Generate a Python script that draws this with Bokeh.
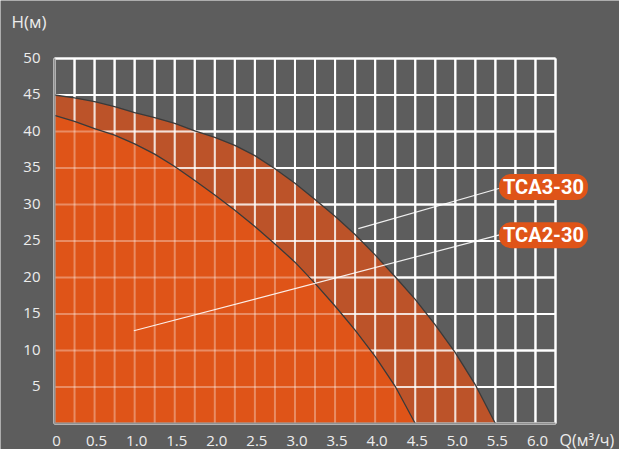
from bokeh.plotting import figure
from bokeh.models import Range1d, Label
from bokeh.core.properties import value
from bokeh.embed import file_html
from bokeh.resources import INLINE

# ---- data ----
q_outer = [0, 0.25, 0.5, 0.75, 1.0, 1.25, 1.5, 1.75, 2.0, 2.25, 2.5, 2.75, 3.0,
           3.25, 3.5, 3.75, 4.0, 4.25, 4.5, 4.75, 5.0, 5.25, 5.5]
h_outer = [45.0, 44.6, 44.1, 43.4, 42.6, 41.9, 41.1, 40.1, 39.2, 38.1, 36.7, 34.9, 32.9,
           30.7, 28.4, 25.9, 23.1, 20.1, 17.0, 13.5, 9.7, 5.3, 0.0]
q_inner = [0, 0.25, 0.5, 0.75, 1.0, 1.25, 1.5, 1.75, 2.0, 2.25, 2.5, 2.75, 3.0,
           3.25, 3.5, 3.75, 4.0, 4.25, 4.5]
h_inner = [42.2, 41.4, 40.4, 39.5, 38.3, 36.9, 35.2, 33.3, 31.3, 29.2, 27.0, 24.6, 22.1,
           19.2, 16.1, 12.8, 9.2, 5.1, 0.0]

x_tick_vals = [0, 0.5, 1.0, 1.5, 2.0, 2.5, 3.0, 3.5, 4.0, 4.5, 5.0, 5.5, 6.0]
x_tick_text = ["0", "0.5", "1.0", "1.5", "2.0", "2.5", "3.0", "3.5", "4.0", "4.5", "5.0", "5.5", "6.0"]
y_tick_vals = [5, 10, 15, 20, 25, 30, 35, 40, 45, 50]
y_tick_text = ["5", "10", "15", "20", "25", "30", "35", "40", "45", "50"]
x_grid_vals = [i * 0.25 for i in range(26)]
y_grid_vals = [0, 5, 10, 15, 20, 25, 30, 35, 40, 45, 50]

series_names = ["TCA3-30", "TCA2-30"]
label_x = [6.1, 6.1]
label_y = [32.4, 25.8]
leader_x0 = [3.79, 0.99]
leader_y0 = [26.7, 12.7]
leader_x1 = [5.575, 5.575]
leader_y1 = [32.3, 25.9]

x_title = "Q(м³/ч)"
y_title = "H(м)"

# ---- style / layout ----
BG = "#5d5d5d"
ORANGE = "#df5418"
BROWN = "#bc5329"
CURVE = "#3a3a3a"
TXT = "#ececec"
AXIS = "#909090"
FONT = "Open Sans"

W, H = 619, 449
F_LEFT, F_RIGHT, F_TOP, F_BOTTOM = 54, 555, 58, 423   # chart area in px

x0, x1 = x_grid_vals[0], x_grid_vals[-1]
y0, y1 = y_grid_vals[0], y_grid_vals[-1]
sx = (F_RIGHT - F_LEFT) / (x1 - x0)
sy = (F_BOTTOM - F_TOP) / (y1 - y0)
XMIN = x0 - F_LEFT / sx
XMAX = x1 + (W - F_RIGHT) / sx
YMAX = y1 + F_TOP / sy
YMIN = y0 - (H - F_BOTTOM) / sy

p = figure(width=W, height=H, x_range=Range1d(XMIN, XMAX), y_range=Range1d(YMIN, YMAX),
           output_backend="svg", toolbar_location=None,
           x_axis_location=None, y_axis_location=None,
           min_border=0, min_border_left=0, min_border_right=0, min_border_top=0, min_border_bottom=0,
           background_fill_color=BG, border_fill_color=BG, outline_line_color=None)
p.grid.visible = False

nx, ny = len(x_grid_vals), len(y_grid_vals)

def grid(alpha):
    p.segment(x0=x_grid_vals, y0=[y0] * nx, x1=x_grid_vals, y1=[y1] * nx,
              line_color="white", line_width=2, line_alpha=alpha)
    p.segment(x0=[x0] * ny, y0=y_grid_vals, x1=[x1] * ny, y1=y_grid_vals,
              line_color="white", line_width=2, line_alpha=alpha)

grid(1.0)
p.varea(x=q_outer, y1=0, y2=h_outer, fill_color=BROWN, fill_alpha=1.0)
grid(0.72)
p.varea(x=q_inner, y1=0, y2=h_inner, fill_color=ORANGE, fill_alpha=1.0)
grid(0.33)

# curves
p.line(q_outer, h_outer, line_color=CURVE, line_width=1.3)
p.line(q_inner, h_inner, line_color=CURVE, line_width=1.3)

# axis lines
p.segment(x0=[x0, x0], y0=[y0, y0], x1=[x0, x1], y1=[y1, y0], line_color=AXIS, line_width=2)

# leader lines
p.segment(x0=leader_x0, y0=leader_y0, x1=leader_x1, y1=leader_y1,
          line_color="white", line_width=1.2, line_alpha=0.9)

# pill labels
for name, lx, ly in zip(series_names, label_x, label_y):
    p.add_layout(Label(x=lx, y=ly, text=name, text_align="center", text_baseline="middle",
                       text_color="white", text_font_style="bold", text_font_size="20px",
                       text_font="Roboto",
                       background_fill_color=ORANGE, border_radius=12, padding=(4, 1)))

# tick labels
p.text(x=x_tick_vals, y=[y0 - 17 / sy] * len(x_tick_vals), text=x_tick_text,
       text_align="center", text_baseline="middle", text_color=TXT, x_offset=2,
       text_font=value(FONT), text_font_size="15px")
p.text(x=[x0 - 14 / sx] * len(y_tick_vals), y=y_tick_vals, text=y_tick_text,
       text_align="right", text_baseline="middle", text_color=TXT,
       text_font=value(FONT), text_font_size="15px", y_offset=-1)

# axis titles
p.text(x=[x0 - 43 / sx], y=[y1 + 37 / sy], text=[y_title], text_align="left",
       text_baseline="middle", text_color=TXT, text_font=value(FONT), text_font_size="17px")
p.text(x=[x1 + 4 / sx], y=[y0 - 16 / sy], text=[x_title], text_align="left",
       text_baseline="middle", text_color=TXT, text_font=value(FONT), text_font_size="16px")

open("out.html", "w").write(file_html(p, INLINE))
